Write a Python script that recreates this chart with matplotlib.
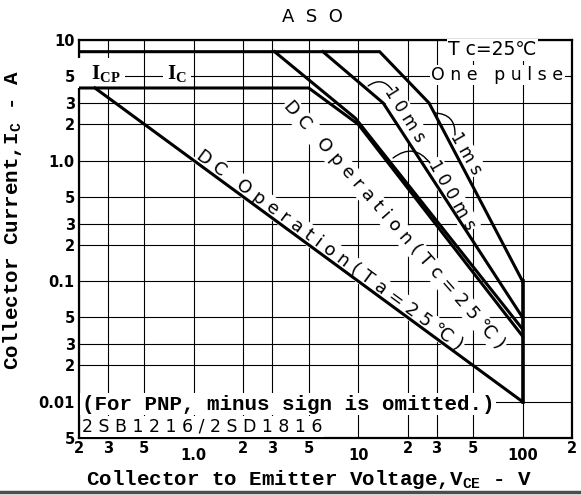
import matplotlib.pyplot as plt

# safe operating area boundaries, (Vce in V, Ic in A)
vce_1ms = [0.2, 13.5, 27, 100]
ic_1ms = [8, 8, 3, 0.1]
vce_10ms = [6.1, 14.2, 100]
ic_10ms = [8, 3, 0.05]
vce_100ms = [3.1, 9.6, 100]
ic_100ms = [8, 2.25, 0.04]
vce_dc_tc = [0.2, 5, 10, 100]
ic_dc_tc = [4, 4, 2, 0.035]
vce_dc_ta = [0.25, 100]
ic_dc_ta = [4, 0.01]
vce_max = [100, 100]
ic_max = [0.1, 0.01]

x_major = [1, 10, 100]
x_major_labels = ['1.0', '10', '100']
x_minor = [0.2, 0.3, 0.5, 2, 3, 5, 20, 30, 50, 200]
x_minor_labels = ['2', '3', '5', '2', '3', '5', '2', '3', '5', '2']
y_major = [10, 1, 0.1, 0.01]
y_major_labels = ['10', '1.0', '0.1', '0.01']
y_minor = [5, 3, 2, 0.5, 0.3, 0.2, 0.05, 0.03, 0.02, 0.005]
y_minor_labels = ['5', '3', '2', '5', '3', '2', '5', '3', '2', '5']


def spaced(s):
    # the original lettering is widely tracked
    return ' '.join(s)


fig = plt.figure(figsize=(5.81, 4.95), dpi=100)
ax = fig.add_axes([79 / 581, 57 / 495, 493 / 581, 398 / 495])
ax.set_xscale('log')
ax.set_yscale('log')
ax.set_xlim(0.2, 200)
ax.set_ylim(0.005, 10)

ax.set_xticks(x_major, x_major_labels)
ax.set_xticks(x_minor, x_minor_labels, minor=True)
ax.set_yticks(y_major, y_major_labels)
ax.set_yticks(y_minor, y_minor_labels, minor=True)
ax.tick_params(which='both', length=0, labelsize=10.5)
ax.tick_params(axis='x', which='minor', pad=2)
ax.tick_params(axis='x', which='major', pad=7)
ax.tick_params(axis='y', which='both', pad=3)
for lbl in (ax.get_xticklabels() + ax.get_xticklabels(minor=True)
            + ax.get_yticklabels() + ax.get_yticklabels(minor=True)):
    lbl.set_fontweight('bold')

ax.set_axisbelow(True)
ax.grid(which='both', color='black', lw=0.8)
for sp in ax.spines.values():
    sp.set_linewidth(1.6)

line_kw = dict(color='black', lw=2.2, solid_joinstyle='miter', zorder=4)
ax.plot(vce_1ms, ic_1ms, **line_kw)
ax.plot(vce_10ms, ic_10ms, **line_kw)
ax.plot(vce_100ms, ic_100ms, **line_kw)
ax.plot(vce_dc_tc, ic_dc_tc, **line_kw)
ax.plot(vce_dc_ta, ic_dc_ta, **line_kw)
ax.plot(vce_max, ic_max, color='black', lw=2.6, zorder=4)

white = dict(facecolor='white', edgecolor='none', pad=1.0)
sans = 'DejaVu Sans'

# labels along the curves
ax.text(6.73, 0.181, spaced('DC Operation(Ta=25℃)'), family=sans, fontsize=13,
        rotation=-36.3, rotation_mode='anchor', ha='center', va='center',
        bbox=white, zorder=3)
ax.text(16.6, 0.292, spaced('DC Operation(Tc=25℃)'), family=sans, fontsize=13,
        rotation=-48.6, rotation_mode='anchor', ha='center', va='center',
        bbox=white, zorder=3)
ax.text(19.3, 2.39, spaced('10ms'), family=sans, fontsize=12,
        rotation=-58, rotation_mode='anchor', ha='center', va='center',
        bbox=white, zorder=3)
ax.text(45.3, 1.155, spaced('1ms'), family=sans, fontsize=12,
        rotation=-60, rotation_mode='anchor', ha='center', va='center',
        bbox=white, zorder=3)
ax.text(37.2, 0.518, spaced('100ms'), family=sans, fontsize=12,
        rotation=-60, rotation_mode='anchor', ha='center', va='center',
        bbox=white, zorder=3)

leader = dict(arrowstyle='-', color='black', lw=1.0, shrinkA=0, shrinkB=0,
              connectionstyle='arc3,rad=0.5')
ax.annotate('', xy=(11.5, 4.16), xytext=(16.1, 3.85), arrowprops=leader, zorder=5)
ax.annotate('', xy=(29.3, 2.48), xytext=(38.8, 1.63), arrowprops=leader, zorder=5)
ax.annotate('', xy=(16.3, 1.05), xytext=(27.3, 0.955), arrowprops=leader, zorder=5)

# corner notes
ax.text(0.838, 0.975, 'T c=25℃', transform=ax.transAxes, family=sans,
        fontsize=13.5, ha='center', va='center', bbox=white, zorder=3)
ax.text(0.848, 0.912, spaced('One pulse'), transform=ax.transAxes, family=sans,
        fontsize=12.5, ha='center', va='center', bbox=white, zorder=3)
ax.text(0.004, 0.917, r'  I$\mathregular{_{CP}}$', transform=ax.transAxes,
        family='Liberation Serif', fontweight='bold', fontsize=15,
        ha='left', va='center', bbox=dict(facecolor='white', edgecolor='none', pad=3),
        zorder=3)
ax.text(0.178, 0.917, r'I$\mathregular{_{C}}\qquad\quad$', transform=ax.transAxes,
        family='Liberation Serif', fontweight='bold', fontsize=15,
        ha='left', va='center', bbox=dict(facecolor='white', edgecolor='none', pad=3),
        zorder=3)
ax.text(0.006, 0.085, '(For PNP, minus sign is omitted.)', transform=ax.transAxes,
        family='Liberation Mono', fontweight='bold', fontsize=15,
        ha='left', va='center', bbox=white, zorder=3)
ax.text(0.006, 0.006, spaced('2SB1216/2SD1816'), transform=ax.transAxes,
        family=sans, fontsize=12.5, ha='left', va='bottom',
        bbox=white, zorder=3)

ax.set_xlabel(r'Collector to Emitter Voltage,V$\mathregular{_{CE}}$ - V',
              family='Liberation Mono', fontweight='bold', fontsize=15)
ax.set_ylabel(r'Collector Current,I$\mathregular{_{C}}$ - A',
              family='Liberation Mono', fontweight='bold', fontsize=15)
ax.xaxis.set_label_coords(0.467, -0.075)
ax.yaxis.set_label_coords(-0.112, 0.548)
fig.text(312 / 581, 1 - 17 / 495, 'A  S  O', family=sans, fontsize=13,
         ha='center', va='center')

# scan edge at the bottom of the page
fig.add_artist(plt.Line2D([0, 1], [0.007, 0.007], color='0.3', lw=2.5))

fig.savefig('out.png', dpi=100)
